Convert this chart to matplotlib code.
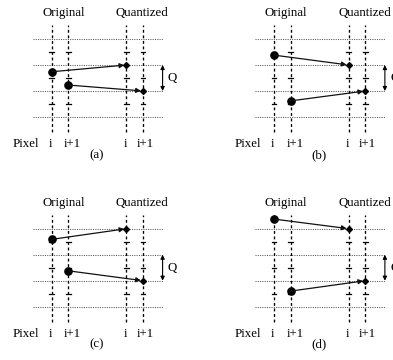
import matplotlib
matplotlib.use("Agg")
import matplotlib.pyplot as plt

# ---- data (levels in units of the quantization step Q) ----
grid_levels = [0, 1, 2, 3]
tick_levels = [0.5, 1.5, 2.5]
orig_cols = [0.0, 1.0]
quant_cols = [4.5, 5.5]
col_labels = ["i", "i+1", "i", "i+1"]
panel_labels = ["(a)", "(b)", "(c)", "(d)"]
orig_a = [1.74, 1.23]; quant_a = [2, 1]
orig_b = [2.38, 0.62]; quant_b = [2, 1]
orig_c = [2.59, 1.38]; quant_c = [3, 1]
orig_d = [3.37, 0.60]; quant_d = [3, 1]
q_span = [1, 2]

W, H = 393, 360
fig = plt.figure(figsize=(W / 100, H / 100), dpi=100)
plt.rcParams['font.family'] = ['Liberation Serif', 'DejaVu Serif']
FS = 9.3

SX, SY = 16.6, 26.0
panels = [
    # (box left, top, right, bottom px), (origin x px, origin y px), orig, quant
    ((0, 0, 196.5, 180), (51.7, 117.0), orig_a, quant_a),
    ((196.5, 0, 393, 180), (274.0, 117.0), orig_b, quant_b),
    ((0, 180, 196.5, 360), (51.7, 306.7), orig_c, quant_c),
    ((196.5, 180, 393, 360), (274.0, 306.7), orig_d, quant_d),
]

for k, (box, org, orig, quant) in enumerate(panels):
    L, T, R, B = box
    x0, y0 = org
    ax = fig.add_axes([L / W, 1 - B / H, (R - L) / W, (B - T) / H])
    ax.set_xlim((L - x0) / SX, (R - x0) / SX)
    ax.set_ylim((y0 - B) / SY, (y0 - T) / SY)
    ax.axis('off')

    # dotted quantization levels
    for lv in grid_levels:
        ax.plot([-1.12, 6.68], [lv, lv], color='#555555', lw=0.75,
                linestyle=(0, (1.0, 1.2)))
    # dashed pixel columns with decision ticks
    for c in orig_cols + quant_cols:
        ax.plot([c, c], [-0.58, 3.54], color='k', lw=0.95,
                linestyle=(0, (2.2, 2.0)))
        for t in tick_levels:
            ax.plot([c - 0.14, c + 0.14], [t, t], color='k', lw=0.9)

    # arrows original -> quantized
    for oc, qc, ov, qv in zip(orig_cols, quant_cols, orig, quant):
        ax.annotate('', xy=(qc, qv), xytext=(oc, ov),
                    arrowprops=dict(arrowstyle='-|>', lw=0.9, color='#111111',
                                    mutation_scale=7, shrinkA=0, shrinkB=1.5))
        ax.plot([oc], [ov], 'o', color='k', ms=5.2)
        ax.plot([qc], [qv], 'D', color='k', ms=3.0)

    # Q double arrow
    ax.annotate('', xy=(6.68, q_span[1]), xytext=(6.68, q_span[0]),
                arrowprops=dict(arrowstyle='<|-|>', lw=0.8, color='k',
                                mutation_scale=6, shrinkA=0, shrinkB=0))
    ax.text(7.0, sum(q_span) / 2, "Q", fontsize=FS, ha='left', va='center')

    # headers
    ax.text(0.7, 4.0, "Original", fontsize=FS, ha='center', va='center')
    ax.text(5.45, 4.0, "Quantized", fontsize=FS, ha='center', va='center')

    # pixel labels
    ax.text(-0.78, -1.04, "Pixel", fontsize=FS, ha='right', va='center')
    offs = [-0.1, 0.26, -0.05, 0.15]
    for c, lab, o in zip(orig_cols + quant_cols, col_labels, offs):
        ax.text(c + o, -1.04, lab, fontsize=FS, ha='center', va='center')
    ax.text(2.73, -1.46, panel_labels[k], fontsize=FS, ha='center', va='center')

fig.savefig("out.png", dpi=100)
